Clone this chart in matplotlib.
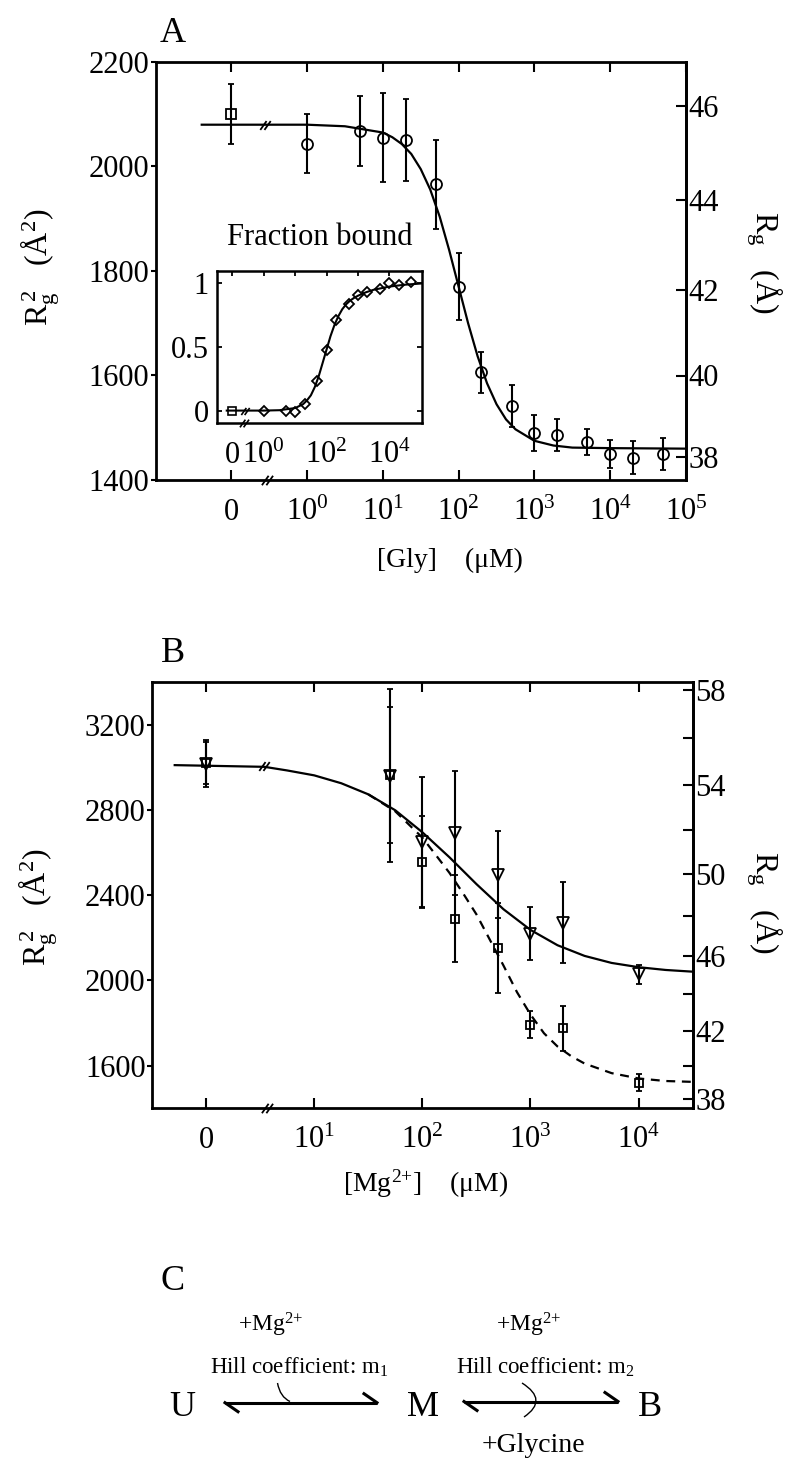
import numpy as np
import matplotlib
matplotlib.use('Agg')
import matplotlib.pyplot as plt
from matplotlib.path import Path
from matplotlib.patches import PathPatch

plt.rcParams['font.family'] = ['Liberation Serif', 'DejaVu Serif']
plt.rcParams['mathtext.fontset'] = 'custom'
plt.rcParams['mathtext.rm'] = 'Liberation Serif'
plt.rcParams['mathtext.it'] = 'Liberation Serif:italic'
plt.rcParams['mathtext.bf'] = 'Liberation Serif:bold'

# ---------------- data ----------------
# Panel A: Rg^2 vs [Gly] (uM); zero concentration shown left of the axis break
gly_conc = [1, 5, 10, 20, 50, 100, 200, 500, 1000, 2000, 5000, 10000, 20000, 50000]
gly_rg2 = [2044, 2067, 2055, 2051, 1966, 1770, 1606, 1542, 1490, 1486, 1473, 1450, 1443, 1450]
gly_err = [57, 67, 85, 78, 85, 64, 39, 40, 35, 30, 25, 27, 32, 30]
gly0_rg2 = 2100
gly0_err = 57

# fitted curve, log10([Gly]) vs Rg^2
fitA_logc = [-1.39, -0.55, 0.0, 0.5, 1.0, 1.125, 1.25, 1.375, 1.5, 1.625, 1.75, 1.875, 2.0,
             2.125, 2.25, 2.375, 2.5, 2.625, 2.75, 3.0, 3.25, 3.5, 4.0, 5.0]
fitA_rg2 = [2080, 2080, 2080, 2077, 2065, 2056, 2043, 2024, 1995, 1956, 1904, 1840, 1770,
            1700, 1637, 1585, 1545, 1516, 1497, 1475, 1466, 1462, 1461, 1460]

# inset: fraction bound
frac_bound = [0.0, 0.0, -0.01, 0.05, 0.23, 0.48, 0.71, 0.84, 0.91, 0.935, 0.96, 1.0, 0.99, 1.01]
frac0 = 0.0
fitI_logc = [-1.18, -0.6, 0.0, 0.5, 1.0, 1.25, 1.375, 1.5, 1.625, 1.75, 1.875, 2.0, 2.125,
             2.25, 2.375, 2.5, 2.625, 2.75, 2.875, 3.0, 3.25, 3.5, 4.0, 4.5, 5.05]
fitI_frac = [0, 0, 0, 0.003, 0.02, 0.05, 0.08, 0.12, 0.185, 0.27, 0.375, 0.48, 0.585,
             0.672, 0.742, 0.797, 0.836, 0.865, 0.886, 0.903, 0.93, 0.95, 0.975, 0.99, 1.0]

# Panel B: Rg^2 vs [Mg2+] (uM)
mg_conc = [0, 50, 100, 200, 500, 1000, 2000, 10000]
tri_rg2 = [3016, 2961, 2649, 2691, 2496, 2220, 2271, 2029]
tri_err = [110, 405, 305, 290, 203, 125, 190, 45]
sq_rg2 = [3020, 2965, 2555, 2290, 2152, 1793, 1775, 1520]
sq_err = [100, 320, 215, 205, 210, 64, 104, 39]

fitB_logc = [-0.29, 0.54, 0.75, 1.0, 1.25, 1.5, 1.75, 2.0, 2.25, 2.5, 2.75, 3.0, 3.25,
             3.5, 3.75, 4.0, 4.25, 4.5]
fitB_rg2 = [3010, 3002, 2985, 2962, 2925, 2873, 2798, 2695, 2578, 2452, 2334, 2237, 2165,
            2115, 2082, 2062, 2049, 2041]
fitB_dash_logc = [1.5, 1.75, 2.0, 2.125, 2.25, 2.375, 2.5, 2.625, 2.75, 2.875, 3.0, 3.125,
                  3.25, 3.375, 3.5, 3.75, 4.0, 4.25, 4.5]
fitB_dash_rg2 = [2873, 2793, 2670, 2588, 2505, 2410, 2310, 2190, 2070, 1945, 1840, 1752,
                 1690, 1645, 1610, 1565, 1540, 1528, 1524]

rgA_ticks = [38, 40, 42, 44, 46]
rgB_ticks = [38, 42, 46, 50, 54, 58]
rgB_minor = [40, 44, 48, 52, 56]


def logpos(conc, zero_at):
    c = np.asarray(conc, float)
    return np.where(c > 0, np.log10(np.where(c > 0, c, 1.0)), zero_at)


W, H = 800, 1470
fig = plt.figure(figsize=(W / 100, H / 100), dpi=100)


def box(l, t, r, b):
    return [l / W, 1 - b / H, (r - l) / W, (b - t) / H]


# "//" break marker
brk = Path([(-1, -0.85), (0.2, 0.85), (-0.2, -0.85), (1, 0.85)],
           [Path.MOVETO, Path.LINETO, Path.MOVETO, Path.LINETO])

TS = 22
ebkw = dict(mfc='none', mec='k', mew=1.3, ecolor='k', elinewidth=1.5,
            capsize=2.4, capthick=1.6, ls='none')


def style_main(ax):
    for s in ax.spines.values():
        s.set_linewidth(2)
    ax.tick_params(axis='x', which='both', direction='in', length=7, width=1.5,
                   top=True, bottom=True, labelsize=TS, pad=28.8)
    for t in ax.get_xticklabels():
        t.set_verticalalignment('baseline')
    ax.tick_params(axis='y', direction='out', length=3.6, width=1.5, labelsize=TS,
                   pad=1, right=False)


def add_rg_axis(ax, major, minor):
    sec = ax.secondary_yaxis('right', functions=(lambda y: np.sqrt(np.maximum(y, 1.0)),
                                                 lambda r: np.square(r)))
    sec.set_yticks(major)
    sec.set_yticklabels([str(v) for v in major])
    sec.set_yticks(minor, minor=True)
    sec.tick_params(which='both', direction='in', length=7, width=1.5, labelsize=TS, pad=2)
    sec.spines['right'].set_linewidth(2)
    return sec


# ---------------- panel A ----------------
axA = fig.add_axes(box(155.5, 62, 686, 480))
axA.plot(fitA_logc, fitA_rg2, color='k', lw=1.6)
axA.errorbar(logpos(gly_conc, -1), gly_rg2, yerr=gly_err, fmt='o', ms=7.9, **ebkw)
axA.errorbar(logpos([0], -1), [gly0_rg2], yerr=[gly0_err], fmt='s', ms=7, **ebkw)
axA.plot([-0.55], [2080], marker=brk, ms=7.5, mec='k', mew=1.3, ls='none')
axA.plot([-0.53], [1400], marker=brk, ms=8, mec='k', mew=1.3, ls='none', clip_on=False)
axA.set_xlim(-2, 5)
axA.set_ylim(1400, 2200)
axA.set_xticks([-1, 0, 1, 2, 3, 4, 5])
axA.set_xticklabels(['0'] + [r'$10^{%d}$' % k for k in range(6)])
axA.set_yticks([1400, 1600, 1800, 2000, 2200])
style_main(axA)
add_rg_axis(axA, rgA_ticks, [])

# inset
axI = fig.add_axes(box(216.7, 270.7, 422.3, 423.3))
axI.plot(fitI_logc, fitI_frac, color='k', lw=1.5)
axI.plot(logpos(gly_conc, -1), frac_bound, ls='none', marker='D', ms=5.2,
         mfc='none', mec='k', mew=1.3)
axI.plot(logpos([0], -1), [frac0], ls='none', marker='s', ms=5.5,
         mfc='none', mec='k', mew=1.2)
axI.plot([-0.6], [0.0], marker=brk, ms=6, mec='k', mew=1.2, ls='none')
axI.plot([-0.64], [-0.1], marker=brk, ms=6.5, mec='k', mew=1.2, ls='none', clip_on=False)
axI.set_xlim(-1.5, 5.05)
axI.set_ylim(-0.1, 1.1)
axI.set_xticks([-1, 0, 1, 2, 3, 4])
axI.set_xticklabels(['0', r'$10^{0}$', '', r'$10^{2}$', '', r'$10^{4}$'])
axI.set_yticks([0, 0.5, 1])
axI.set_yticklabels(['0', '0.5', '1'])
for s in axI.spines.values():
    s.set_linewidth(1.8)
axI.tick_params(axis='x', direction='in', length=3.6, width=1.3, top=True, bottom=True,
                labelsize=TS, pad=28.8)
for t in axI.xaxis.get_major_ticks():
    t.tick1line.set_visible(False)
for t in axI.get_xticklabels():
    t.set_verticalalignment('baseline')
axI.tick_params(axis='y', direction='in', length=3.6, width=1.3, left=True, right=True,
                labelsize=TS, pad=5.5)

# ---------------- panel B ----------------
axB = fig.add_axes(box(152, 682, 692.7, 1108.3))
axB.plot(fitB_logc, fitB_rg2, color='k', lw=1.6)
axB.plot(fitB_dash_logc, fitB_dash_rg2, color='k', lw=1.6, ls=(0, (4, 3)))
axB.errorbar(logpos(mg_conc, 0), tri_rg2, yerr=tri_err, fmt='v', ms=9, **ebkw)
axB.errorbar(logpos(mg_conc, 0), sq_rg2, yerr=sq_err, fmt='s', ms=6.3, **ebkw)
axB.plot([0.54], [3008], marker=brk, ms=7.5, mec='k', mew=1.3, ls='none')
axB.plot([0.56], [1400], marker=brk, ms=8, mec='k', mew=1.3, ls='none', clip_on=False)
axB.set_xlim(-0.5, 4.5)
axB.set_ylim(1400, 3400)
axB.set_xticks([0, 1, 2, 3, 4])
axB.set_xticklabels(['0'] + [r'$10^{%d}$' % k for k in range(1, 5)])
axB.set_yticks([1600, 2000, 2400, 2800, 3200])
style_main(axB)
add_rg_axis(axB, rgB_ticks, rgB_minor)

# ---------------- labels and panel C (pixel coordinates) ----------------
ov = fig.add_axes([0, 0, 1, 1])
ov.set_xlim(0, W)
ov.set_ylim(H, 0)
ov.axis('off')

LS = 23
for lab, y in [('A', 33), ('B', 653), ('C', 1282)]:
    ov.text(172.5, y, lab, fontsize=26, ha='center', va='center')

ylab_l = r'R$_{\mathregular{g}}^{\,2}$   (Å$^{2}$)'
ylab_r = r'R$_{\mathregular{g}}$   (Å)'
ov.text(40, 267, ylab_l, fontsize=LS, rotation=90, ha='center', va='center')
ov.text(764, 262, ylab_r, fontsize=LS, rotation=270, ha='center', va='center')
ov.text(38, 907, ylab_l, fontsize=LS, rotation=90, ha='center', va='center')
ov.text(764, 902, ylab_r, fontsize=LS, rotation=270, ha='center', va='center')
ov.text(450, 560, '[Gly]    (\u03bcM)', fontsize=20, ha='center', va='center')
ov.text(426, 1184, '[Mg$^{2{+}}$]    (\u03bcM)', fontsize=20, ha='center', va='center')
ov.text(319.5, 237, 'Fraction bound', fontsize=22, ha='center', va='center')

# scheme U <-> M <-> B
for lab, x in [('U', 182.5), ('M', 422.5), ('B', 650)]:
    ov.text(x, 1407.5, lab, fontsize=26, ha='center', va='center')
for x0, x1, y in [(225, 377, 1402.7), (464, 618, 1401.5)]:
    ov.plot([x0, x1], [y, y], color='k', lw=2.2, solid_capstyle='butt')
    ov.plot([x0, x0 + 13], [y, y + 9], color='k', lw=2.2)
    ov.plot([x1, x1 - 13], [y, y - 9], color='k', lw=2.2)
ov.text(271, 1325, r'+Mg$^{2{+}}$', fontsize=17, ha='center', va='center')
ov.text(528.5, 1325, r'+Mg$^{2{+}}$', fontsize=17, ha='center', va='center')
ov.text(299, 1367, r'Hill coefficient: m$_1$', fontsize=16.5, ha='center', va='center')
ov.text(545.5, 1367, r'Hill coefficient: m$_2$', fontsize=16.5, ha='center', va='center')
ov.text(533, 1446, '+Glycine', fontsize=20, ha='center', va='center')
for pts in [[(277.5, 1383), (280, 1397), (290, 1401.5)],
            [(522, 1383), (549, 1400), (524, 1417)]]:
    ov.add_patch(PathPatch(Path(pts, [Path.MOVETO, Path.CURVE3, Path.CURVE3]),
                           fc='none', ec='k', lw=1.0))

fig.savefig('out.png', dpi=100)
print('saved out.png')
